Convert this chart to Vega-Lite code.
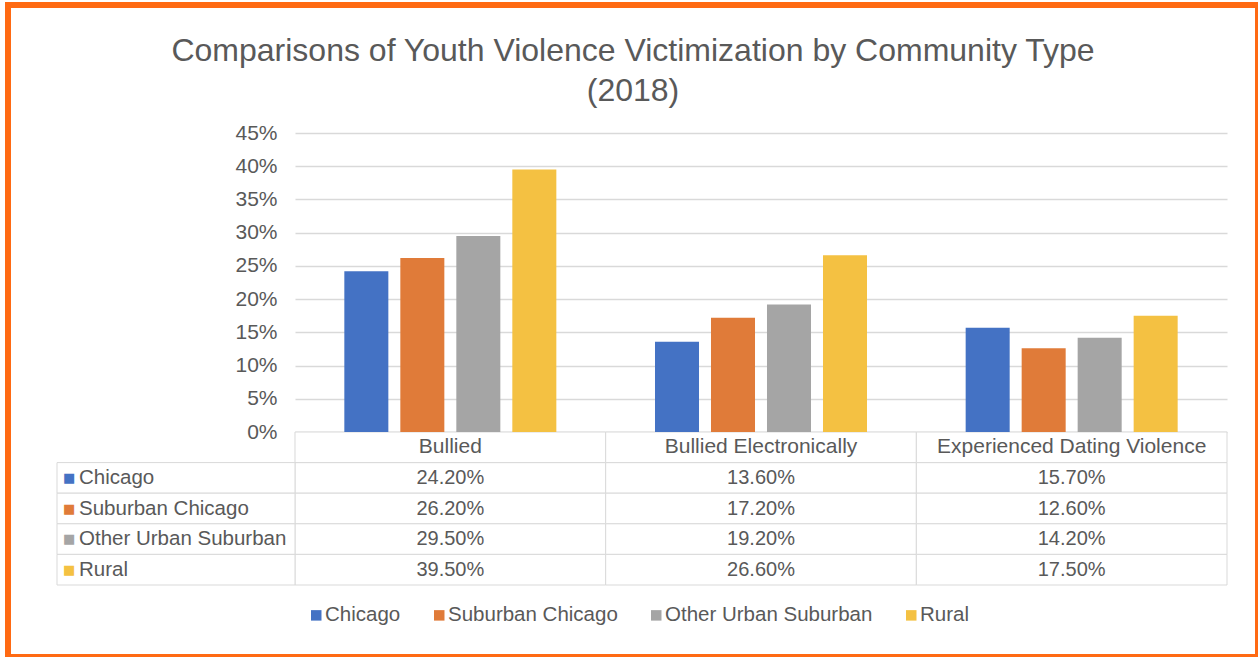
{
  "$schema": "https://vega.github.io/schema/vega-lite/v6.json",
  "width": 1250,
  "height": 652,
  "autosize": {"type": "none"},
  "padding": {"left": 8, "top": 5, "right": 0, "bottom": 0},
  "background": "white",
  "view": {"stroke": "#FF6A13", "strokeWidth": 6, "fill": "white"},
  "config": {"font": "Liberation Sans", "text": {"font": "Liberation Sans"}},
  "title": {
    "text": ["Comparisons of Youth Violence Victimization by Community Type", "(2018)"],
    "fontSize": 32,
    "fontWeight": "normal",
    "color": "#595959",
    "lineHeight": 40,
    "anchor": "middle",
    "baseline": "top",
    "offset": -103
  },
  "data": {
    "values": [
      {"category": "Bullied", "series": "Chicago", "value": 0.242},
      {"category": "Bullied", "series": "Suburban Chicago", "value": 0.262},
      {"category": "Bullied", "series": "Other Urban Suburban", "value": 0.295},
      {"category": "Bullied", "series": "Rural", "value": 0.395},
      {"category": "Bullied Electronically", "series": "Chicago", "value": 0.136},
      {"category": "Bullied Electronically", "series": "Suburban Chicago", "value": 0.172},
      {"category": "Bullied Electronically", "series": "Other Urban Suburban", "value": 0.192},
      {"category": "Bullied Electronically", "series": "Rural", "value": 0.266},
      {"category": "Experienced Dating Violence", "series": "Chicago", "value": 0.157},
      {"category": "Experienced Dating Violence", "series": "Suburban Chicago", "value": 0.126},
      {"category": "Experienced Dating Violence", "series": "Other Urban Suburban", "value": 0.142},
      {"category": "Experienced Dating Violence", "series": "Rural", "value": 0.175}
    ]
  },
  "resolve": {"scale": {"x": "independent", "y": "independent"}},
  "layer": [
    {
      "mark": {"type": "rect", "fill": "white", "stroke": "#d9d9d9", "strokeWidth": 1},
      "encoding": {
        "x": {"field": "category", "type": "nominal", "sort": null, "axis": null,
              "scale": {"domain": ["Bullied", "Bullied Electronically", "Experienced Dating Violence"], "range": [287, 1219], "paddingInner": 0, "paddingOuter": 0}},
        "y": {"field": "series", "type": "nominal", "sort": null, "axis": null,
              "scale": {"domain": ["hdr", "Chicago", "Suburban Chicago", "Other Urban Suburban", "Rural"], "range": [427, 580], "paddingInner": 0, "paddingOuter": 0}}
      }
    },
    {
      "transform": [{"filter": "datum.series === 'Chicago'"}],
      "mark": {"type": "rect", "fill": "white", "stroke": "#d9d9d9", "strokeWidth": 1},
      "encoding": {
        "x": {"field": "category", "type": "nominal", "sort": null, "axis": null,
              "scale": {"domain": ["Bullied", "Bullied Electronically", "Experienced Dating Violence"], "range": [287, 1219], "paddingInner": 0, "paddingOuter": 0}},
        "y": {"datum": "hdr", "type": "nominal", "axis": null,
              "scale": {"domain": ["hdr", "Chicago", "Suburban Chicago", "Other Urban Suburban", "Rural"], "range": [427, 580], "paddingInner": 0, "paddingOuter": 0}}
      }
    },
    {
      "transform": [{"filter": "datum.category === 'Bullied'"}],
      "mark": {"type": "rect", "fill": "white", "stroke": "#d9d9d9", "strokeWidth": 1},
      "encoding": {
        "x": {"datum": "lbl", "type": "nominal", "axis": null,
              "scale": {"domain": ["lbl"], "range": [49, 287], "paddingInner": 0, "paddingOuter": 0}},
        "y": {"field": "series", "type": "nominal", "sort": null, "axis": null,
              "scale": {"domain": ["hdr", "Chicago", "Suburban Chicago", "Other Urban Suburban", "Rural"], "range": [427, 580], "paddingInner": 0, "paddingOuter": 0}}
      }
    },
    {
      "mark": {"type": "bar"},
      "encoding": {
        "x": {"field": "category", "type": "nominal", "sort": null, "axis": null,
              "scale": {"domain": ["Bullied", "Bullied Electronically", "Experienced Dating Violence"], "range": [287, 1219], "paddingInner": 0.279, "paddingOuter": 0.1395}},
        "xOffset": {"field": "series", "type": "nominal", "sort": null,
              "scale": {"domain": ["Chicago", "Suburban Chicago", "Other Urban Suburban", "Rural"], "paddingInner": 0.214, "paddingOuter": 0.107}},
        "y": {"field": "value", "type": "quantitative",
              "scale": {"domain": [0, 0.45], "range": [427, 128], "nice": false, "zero": true},
              "axis": {"title": null, "values": [0, 0.05, 0.1, 0.15, 0.2, 0.25, 0.3, 0.35, 0.4, 0.45], "format": ".0%",
                       "offset": -287, "ticks": false, "domain": false, "grid": true, "gridColor": "#d9d9d9", "gridWidth": 1.3,
                       "labelFontSize": 21, "labelColor": "#595959", "labelPadding": 18, "labelFont": "Liberation Sans"}},
        "color": {"field": "series", "type": "nominal", "sort": null,
                  "scale": {"domain": ["Chicago", "Suburban Chicago", "Other Urban Suburban", "Rural"], "range": ["#4472C4", "#E07B39", "#A5A5A5", "#F4C142"]},
                  "legend": {"title": null, "orient": "none", "direction": "horizontal", "legendX": 298, "legendY": 600,
                             "symbolType": "square", "symbolSize": 110, "symbolStrokeWidth": 0, "symbolOpacity": 1,
                             "labelFontSize": 20.5, "labelColor": "#595959", "labelFont": "Liberation Sans", "labelOffset": -1.5,
                             "columnPadding": 28, "labelLimit": 0}}
      }
    },
    {
      "mark": {"type": "text", "fontSize": 20, "color": "#595959", "baseline": "middle"},
      "encoding": {
        "x": {"field": "category", "type": "nominal", "sort": null, "axis": null,
              "scale": {"domain": ["Bullied", "Bullied Electronically", "Experienced Dating Violence"], "range": [287, 1219], "paddingInner": 0, "paddingOuter": 0}},
        "y": {"field": "series", "type": "nominal", "sort": null, "axis": null,
              "scale": {"domain": ["hdr", "Chicago", "Suburban Chicago", "Other Urban Suburban", "Rural"], "range": [427, 580], "paddingInner": 0, "paddingOuter": 0}},
        "text": {"field": "value", "type": "quantitative", "format": ".2%"}
      }
    },
    {
      "transform": [{"filter": "datum.series === 'Chicago'"}],
      "mark": {"type": "text", "fontSize": 21, "color": "#595959", "baseline": "middle"},
      "encoding": {
        "x": {"field": "category", "type": "nominal", "sort": null, "axis": null,
              "scale": {"domain": ["Bullied", "Bullied Electronically", "Experienced Dating Violence"], "range": [287, 1219], "paddingInner": 0, "paddingOuter": 0}},
        "y": {"datum": "hdr", "type": "nominal", "axis": null,
              "scale": {"domain": ["hdr", "Chicago", "Suburban Chicago", "Other Urban Suburban", "Rural"], "range": [427, 580], "paddingInner": 0, "paddingOuter": 0}},
        "text": {"field": "category", "type": "nominal"}
      }
    },
    {
      "transform": [{"filter": "datum.category === 'Bullied'"}],
      "mark": {"type": "text", "text": "■", "font": "DejaVu Sans", "fontSize": 13, "align": "left", "baseline": "middle", "dx": 6},
      "encoding": {
        "x": {"datum": "lbl", "type": "nominal", "axis": null,
              "scale": {"type": "point", "domain": ["lbl"], "range": [49, 287], "padding": 0, "align": 0}},
        "y": {"field": "series", "type": "nominal", "sort": null, "axis": null,
              "scale": {"domain": ["hdr", "Chicago", "Suburban Chicago", "Other Urban Suburban", "Rural"], "range": [427, 580], "paddingInner": 0, "paddingOuter": 0}},
        "color": {"field": "series", "type": "nominal", "sort": null}
      }
    },
    {
      "transform": [{"filter": "datum.category === 'Bullied'"}],
      "mark": {"type": "text", "fontSize": 20.5, "color": "#595959", "align": "left", "baseline": "middle", "dx": 22},
      "encoding": {
        "x": {"datum": "lbl", "type": "nominal", "axis": null,
              "scale": {"type": "point", "domain": ["lbl"], "range": [49, 287], "padding": 0, "align": 0}},
        "y": {"field": "series", "type": "nominal", "sort": null, "axis": null,
              "scale": {"domain": ["hdr", "Chicago", "Suburban Chicago", "Other Urban Suburban", "Rural"], "range": [427, 580], "paddingInner": 0, "paddingOuter": 0}},
        "text": {"field": "series", "type": "nominal"}
      }
    }
  ]
}
